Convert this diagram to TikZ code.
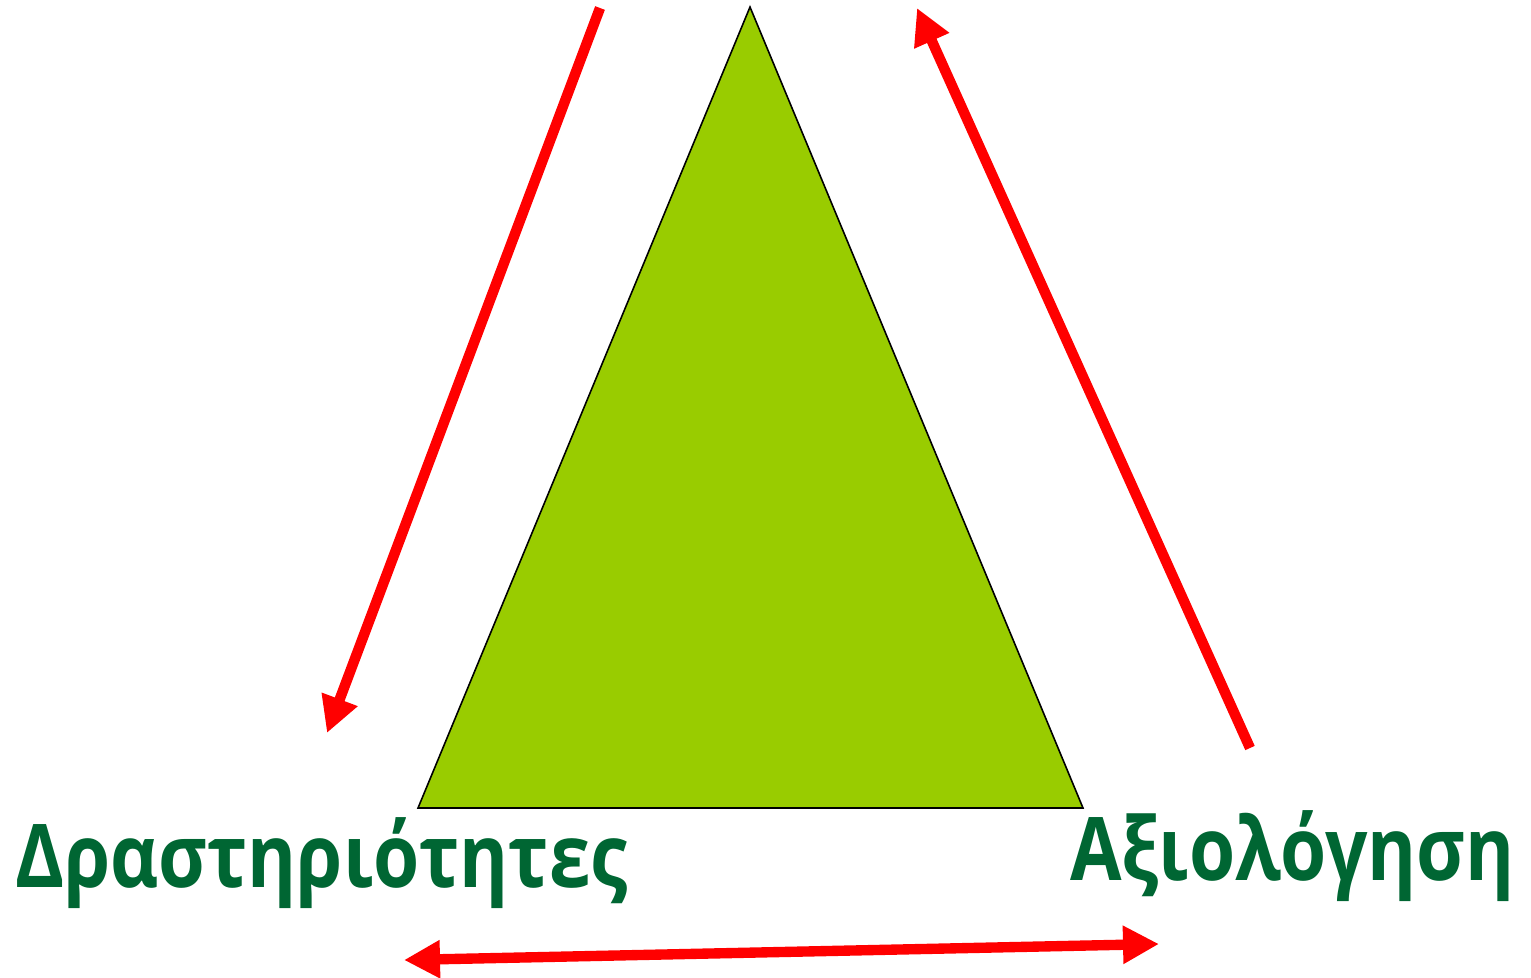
\documentclass[tikz,border=0pt]{standalone}
\usepackage{fontspec}
\setmainfont{Open Sans}
\usepackage{tikz}
\usetikzlibrary{arrows.meta}

\definecolor{leaf}{HTML}{99CC00}
\definecolor{darkleaf}{HTML}{006633}
\tikzset{
    redarrow/.style={draw=red, line width=5.9pt, -{Triangle[length=0.72cm, width=0.72cm]}},
    redboth/.style={draw=red, line width=5.9pt, {Triangle[length=0.72cm, width=0.72cm]}-{Triangle[length=0.72cm, width=0.72cm]}},
    label/.style={text=darkleaf, font=\fontsize{50}{60}\selectfont\bfseries, inner sep=0pt, xscale=0.85, transform shape}
}

\begin{document}
\begin{tikzpicture}[x=0.02cm, y=-0.02cm]
    \useasboundingbox (0, 0) rectangle (1531, 977);

    % the triangle
    \coordinate (apex) at (750, 7);
    \coordinate (baseL) at (418, 808);
    \coordinate (baseR) at (1083, 808);
    \filldraw[fill=leaf, draw=black, line width=0.9pt, line join=miter] (apex) -- (baseR) -- (baseL) -- cycle;

    % corner labels
    \node[label, anchor=base west] (acts) at (15, 887) {Δραστηριότητες};
    \node[label, anchor=base east] (eval) at (1515, 880) {Αξιολόγηση};

    % cycle arrows
    \coordinate (downStart) at (600, 8);
    \coordinate (downEnd) at (327, 733);
    \coordinate (upStart) at (1250, 748);
    \coordinate (upEnd) at (917, 8);
    \coordinate (botL) at (404, 960);
    \coordinate (botR) at (1159, 944);
    \draw[redarrow] (downStart) -- (downEnd);
    \draw[redarrow] (upStart) -- (upEnd);
    \draw[redboth] (botL) -- (botR);
\end{tikzpicture}
\end{document}
